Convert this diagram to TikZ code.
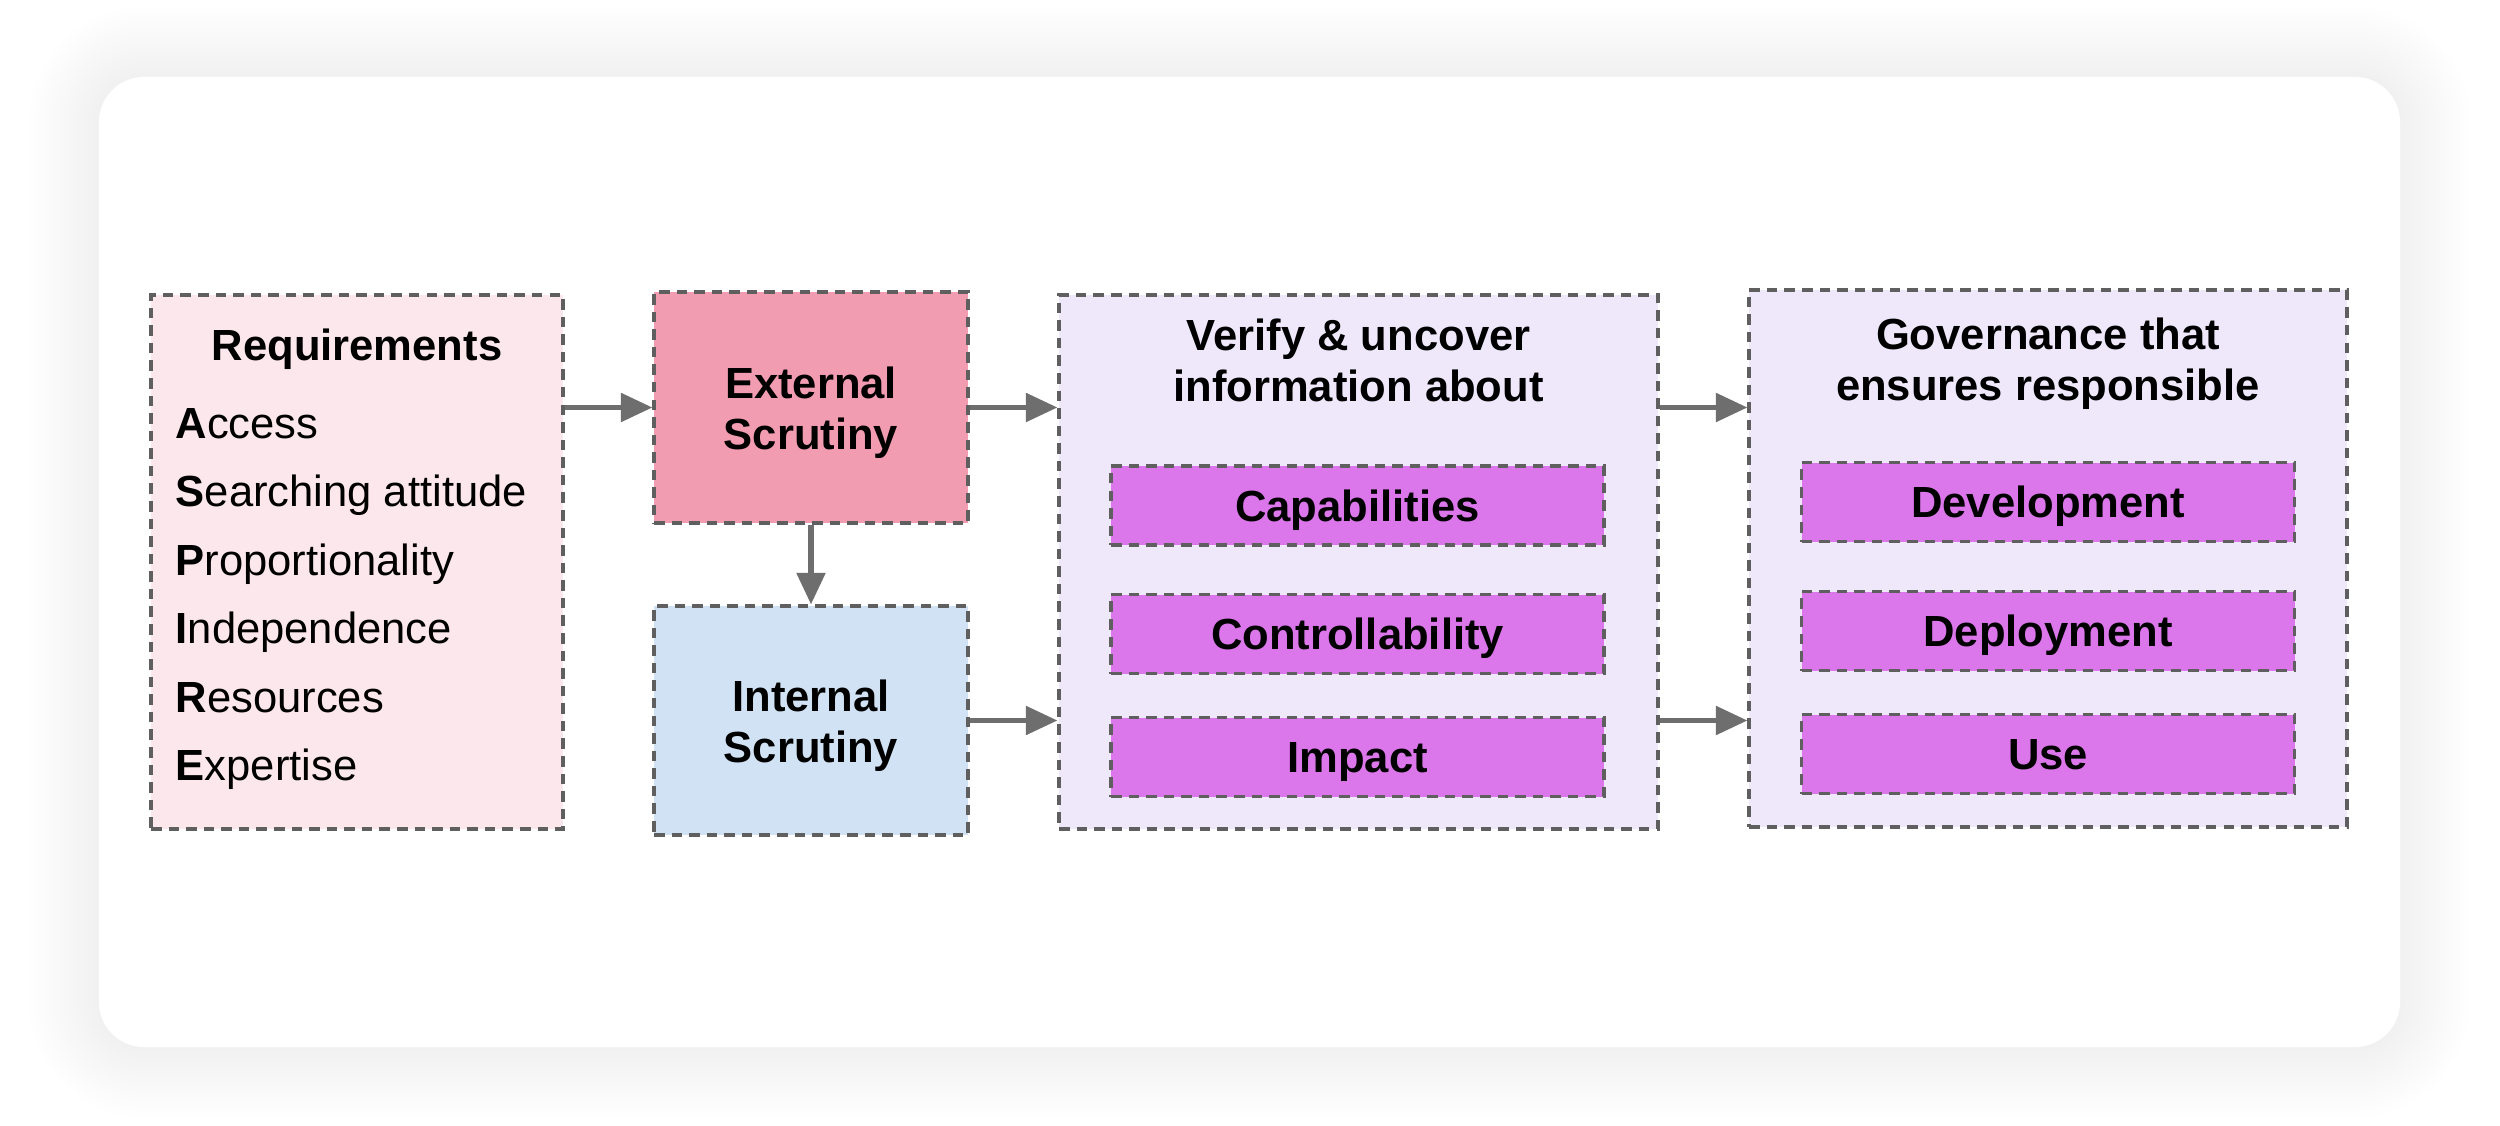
\documentclass[tikz,border=0pt]{standalone}
\usepackage{fontspec}
\setmainfont{Liberation Sans}
\usetikzlibrary{arrows.meta}

\definecolor{reqpink}{HTML}{FCE8EC}
\definecolor{extpink}{HTML}{F29CB1}
\definecolor{intblue}{HTML}{D0E2F3}
\definecolor{lilac}{HTML}{EFE8FB}
\definecolor{subpurple}{HTML}{DB77EB}
\definecolor{edgegray}{HTML}{5F5F5F}
\definecolor{arrowgray}{HTML}{6E6E6E}

\begin{document}
\begin{tikzpicture}[
    txt/.style={font=\fontsize{12.4}{14.5}\selectfont},
    bold/.style={font=\bfseries\fontsize{12.4}{14.5}\selectfont},
    box/.style={draw=edgegray, dash pattern=on 3pt off 2pt, line width=0.9pt,
        rectangle, inner sep=0pt, align=center, txt},
    sub/.style={box, fill=subpurple, minimum width=4.93cm, minimum height=0.79cm,
        bold, text height=8.9pt, text depth=0pt},
    arr/.style={-{Triangle[length=9pt,width=8pt]}, line width=1.5pt, draw=arrowgray}
]
    \useasboundingbox (0,0) rectangle (25,11.25);

    % Card with soft shadow
    \foreach \s in {1,...,14}
        \fill[black, opacity=0.0042, rounded corners=0.45cm+\s*0.5mm]
            (0.99-\s*0.05, 0.78-\s*0.05) rectangle (24.00+\s*0.05, 10.48+\s*0.05);
    \fill[white, rounded corners=0.45cm] (0.99,0.78) rectangle (24.00,10.48);

    % Requirements
    \node[box, fill=reqpink, minimum width=4.12cm, minimum height=5.34cm] (req) at (3.57,5.63) {};
    \node[bold, anchor=base] (reqT) at (3.57,7.64) {Requirements};
    \foreach \ltr/\rest [count=\i] in {A/ccess, S/earching attitude, P/roportionality,
                                       I/ndependence, R/esources, E/xpertise}
        \node[txt, anchor=base west, inner sep=0pt] (item\i) at (1.75,{6.87-0.685*(\i-1)}) {\textbf{\ltr}\rest};

    % Scrutiny
    \node[box, fill=extpink, minimum width=3.14cm, minimum height=2.31cm] (ext) at (8.11,7.175) {};
    \node[bold, align=center] (extT) at (8.11,7.125) {External\\Scrutiny};
    \node[box, fill=intblue, minimum width=3.14cm, minimum height=2.29cm] (int) at (8.11,4.045) {};
    \node[bold, align=center] (intT) at (8.11,3.995) {Internal\\Scrutiny};

    % Verify
    \node[box, fill=lilac, minimum width=5.99cm, minimum height=5.34cm] (ver) at (13.585,5.63) {};
    \node[bold, align=center] (verT) at (13.585,7.65) {Verify \& uncover\\information about};
    \node[sub] (cap) at (13.575,6.195) {Capabilities};
    \node[sub] (ctrl) at (13.575,4.91) {Controllability};
    \node[sub] (imp) at (13.575,3.68) {Impact};

    % Governance
    \node[box, fill=lilac, minimum width=5.98cm, minimum height=5.37cm] (gov) at (20.48,5.665) {};
    \node[bold, align=center] (govT) at (20.48,7.61) {Governance that\\ensures responsible};
    \node[sub] (dev) at (20.48,6.23) {Development};
    \node[sub] (dep) at (20.48,4.94) {Deployment};
    \node[sub] (use) at (20.48,3.71) {Use};

    % Arrows
    \draw[arr] (req.east |- ext.west) -- (ext.west);
    \draw[arr] (ext.south) -- (int.north);
    \draw[arr] (ext.east) -- (ext.east -| ver.west);
    \draw[arr] (int.east) -- (int.east -| ver.west);
    \draw[arr] (ver.east |- ext.east) -- (gov.west |- ext.east);
    \draw[arr] (ver.east |- int.east) -- (gov.west |- int.east);

\end{tikzpicture}
\end{document}
